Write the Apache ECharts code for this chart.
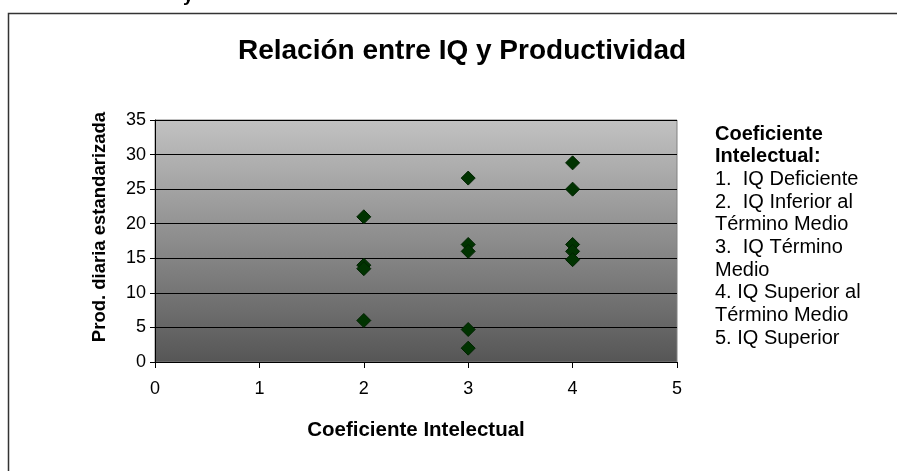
<!DOCTYPE html>
<html>
<head>
<meta charset="utf-8">
<script src="https://cdn.jsdelivr.net/npm/echarts@6/dist/echarts.min.js"></script>
<style>
  html, body { margin: 0; padding: 0; background: #fff; }
  #chart { width: 897px; height: 471px; }
</style>
</head>
<body>
<div id="chart"></div>
<script>
var iqLevel = [2, 2, 2, 2, 3, 3, 3, 3, 3, 4, 4, 4, 4, 4];
var productividad = [21, 14, 13.5, 6, 26.6, 17, 16, 4.7, 2, 28.8, 25, 17, 16, 14.8];
var legendLines = [
  'Coeficiente', 'Intelectual:', '1.  IQ Deficiente', '2.  IQ Inferior al',
  'Término Medio', '3.  IQ Término', 'Medio', '4. IQ Superior al',
  'Término Medio', '5. IQ Superior'
];

(function() {
  var font = 'Arial, "Liberation Sans", sans-serif';
  var points = iqLevel.map(function(x, i) { return [x, productividad[i]]; });

  var graphics = [
    { type: 'rect', shape: { x: 8.5, y: 13.5, width: 900, height: 470 },
      style: { fill: 'none', stroke: '#333', lineWidth: 1.5 }, silent: true },
    { type: 'text', left: 183, top: -14,
      style: { text: 'y', font: 'bold 19px ' + font, fill: '#000' } },
    // y axis title, placed a bit above the plot's middle like the original
    { type: 'text', x: 100, y: 227, rotation: Math.PI / 2,
      style: { text: 'Prod. diaria estandarizada', font: 'bold 18.5px ' + font, fill: '#000',
               textAlign: 'center', textVerticalAlign: 'middle' } }
  ];
  legendLines.forEach(function(t, i) {
    graphics.push({
      type: 'text', x: 715, y: 134 + i * 22.7,
      style: { text: t, font: (i < 2 ? 'bold ' : '') + '20px ' + font, fill: '#000',
               textVerticalAlign: 'middle' }
    });
  });

  var chart = echarts.init(document.getElementById('chart'), null, { renderer: 'canvas' });
  chart.setOption({
    animation: false,
    title: {
      text: 'Relación entre IQ y Productividad',
      left: 457, top: 32, textAlign: 'center',
      textStyle: { fontFamily: font, fontSize: 28, fontWeight: 'bold', color: '#000' }
    },
    grid: {
      left: 155, right: 220, top: 120, bottom: 109, show: true,
      borderColor: '#808080', borderWidth: 1,
      backgroundColor: new echarts.graphic.LinearGradient(0, 0, 0, 1, [
        { offset: 0, color: '#c2c2c2' },
        { offset: 1, color: '#565656' }
      ])
    },
    xAxis: {
      type: 'value', min: 0, max: 5, interval: 1,
      name: 'Coeficiente Intelectual', nameLocation: 'middle', nameGap: 58,
      nameTextStyle: { fontFamily: font, fontSize: 20.5, fontWeight: 'bold', color: '#000' },
      axisLine: { onZero: false, lineStyle: { color: '#000' } },
      axisTick: { show: true, length: 6, lineStyle: { color: '#000' } },
      axisLabel: { fontFamily: font, fontSize: 18, color: '#000', margin: 18 },
      splitLine: { show: false }
    },
    yAxis: {
      type: 'value', min: 0, max: 35, interval: 5,
      axisLine: { show: true, lineStyle: { color: '#000' } },
      axisTick: { show: true, length: 5, lineStyle: { color: '#000' } },
      axisLabel: { fontFamily: font, fontSize: 18, color: '#000', margin: 9 },
      splitLine: { show: true, lineStyle: { color: '#000', width: 1 } }
    },
    series: [{
      type: 'scatter',
      symbol: 'diamond',
      symbolSize: 14,
      itemStyle: { color: '#003300', borderColor: '#002200', borderWidth: 1, opacity: 1 },
      data: points
    }],
    graphic: graphics
  });
})();
</script>
</body>
</html>
